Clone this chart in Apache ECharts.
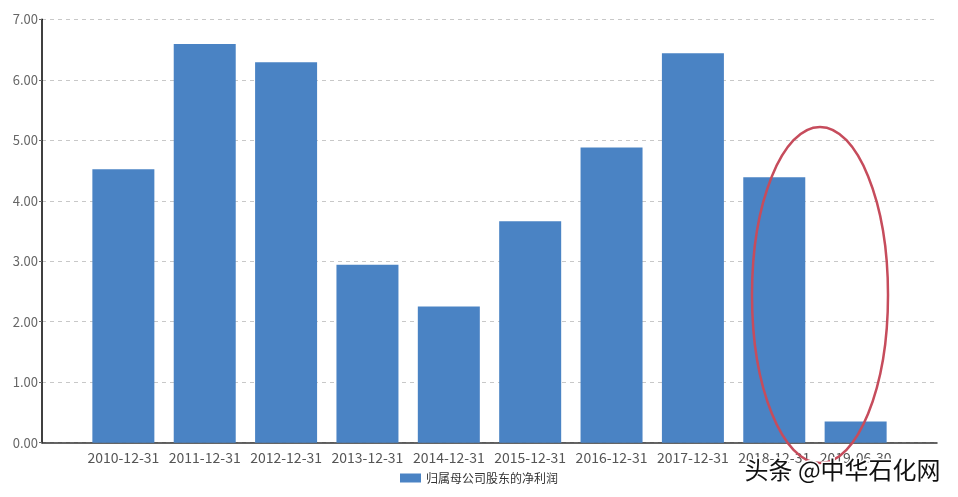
<!DOCTYPE html>
<html><head><meta charset="utf-8">
<script src="https://cdn.jsdelivr.net/npm/echarts@6/dist/echarts.min.js"></script>
<style>html,body{margin:0;padding:0;background:#fff}#c{width:958px;height:497px}</style>
</head><body><div id="c"></div>
<script>
const categories = ['2010-12-31','2011-12-31','2012-12-31','2013-12-31','2014-12-31','2015-12-31','2016-12-31','2017-12-31','2018-12-31','2019-06-30'];
const netProfit = [4.52, 6.59, 6.29, 2.94, 2.25, 3.66, 4.88, 6.44, 4.39, 0.35];
const seriesName = '归属母公司股东的净利润';
const yTicks = [0,1,2,3,4,5,6,7];

const chart = echarts.init(document.getElementById('c'));
const font = '"Noto Sans CJK SC", "Open Sans", sans-serif';
chart.setOption({
  animation: false,
  textStyle: {fontFamily: font},
  grid: {left: 42, right: 21, top: 19.3, bottom: 54.3, containLabel: false},
  legend: {
    data: [{name: seriesName, icon: 'rect'}], bottom: 8, left: 'center',
    itemWidth: 21, itemHeight: 9, itemGap: 6,
    textStyle: {fontSize: 12, color: '#333', fontFamily: font}
  },
  xAxis: {
    type: 'category', boundaryGap: false,
    data: [''].concat(categories, ['']),
    axisLine: {lineStyle: {color: '#333', width: 1.5}},
    axisTick: {show: false},
    axisLabel: {interval: 0, fontSize: 14, color: '#555', margin: 8},
    splitLine: {show: false}
  },
  yAxis: {
    type: 'value', min: yTicks[0], max: yTicks[yTicks.length-1], interval: 1,
    axisLine: {show: true, lineStyle: {color: '#000', width: 1.5}},
    axisTick: {show: true, length: 3, lineStyle: {color: '#666'}},
    axisLabel: {fontSize: 13, color: '#666', margin: 4, formatter: v => v.toFixed(2)},
    splitLine: {lineStyle: {type: [4, 4], color: '#c8c8c8'}}
  },
  series: [{
    name: seriesName, type: 'bar', barWidth: 62,
    itemStyle: {color: '#4a83c4'},
    data: [null].concat(netProfit, [null])
  }],
  graphic: [
    {type: 'ellipse', shape: {cx: 820, cy: 295, rx: 68, ry: 168},
     style: {fill: 'none', stroke: '#c64c5c', lineWidth: 2.5}, z: 100},
    {type: 'text', left: 743, top: 456, z: 101,
     style: {text: '头条 @中华石化网', fontSize: 24, fill: '#111', stroke: '#fff', lineWidth: 3, fontFamily: font}}
  ]
});
</script></body></html>
